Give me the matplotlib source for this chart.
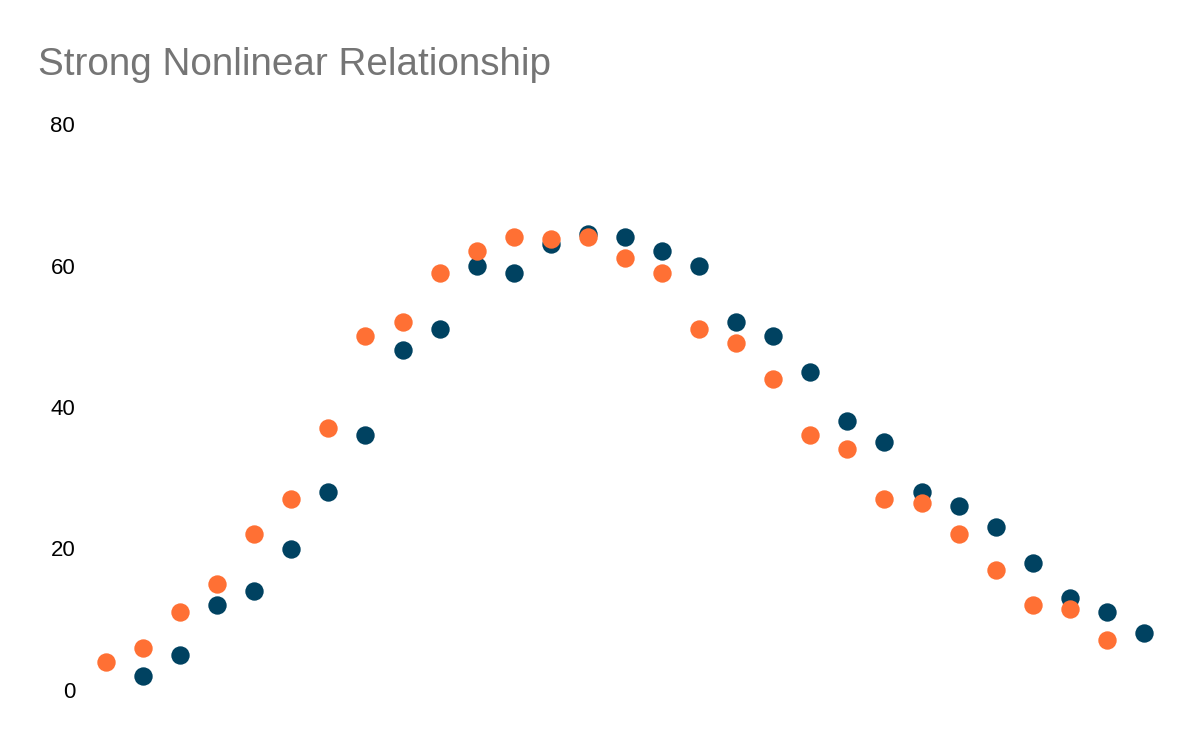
import matplotlib
matplotlib.use("Agg")
import matplotlib.pyplot as plt

plt.rcParams['font.family'] = ['Liberation Sans', 'DejaVu Sans']

title = "Strong Nonlinear Relationship"
y_ticks = [0, 20, 40, 60, 80]

blue_x = list(range(1, 29))
blue_y = [2, 5, 12, 14, 20, 28, 36, 48, 51, 60, 59, 63, 64.5, 64, 62, 60,
          52, 50, 45, 38, 35, 28, 26, 23, 18, 13, 11, 8]

orange_x = list(range(0, 28))
orange_y = [4, 6, 11, 15, 22, 27, 37, 50, 52, 59, 62, 64, 63.7, 64, 61, 59,
            51, 49, 44, 36, 34, 27, 26.4, 22, 17, 12, 11.4, 7]

W, H = 1200, 742
fig = plt.figure(figsize=(W / 100, H / 100), dpi=100)
left_px, right_px = 80, 1170
top_px, bot_px = 124, 690
ax = fig.add_axes([left_px / W, (H - bot_px) / H, (right_px - left_px) / W, (bot_px - top_px) / H])

step = 37.07
x0_px = 106
ax.set_xlim((left_px - x0_px) / step, (right_px - x0_px) / step)
ax.set_ylim(0, 80)

ax.scatter(blue_x, blue_y, s=175, color='#004261', linewidths=0, clip_on=False, zorder=2)
ax.scatter(orange_x, orange_y, s=175, color='#ff7034', linewidths=0, clip_on=False, zorder=3)

for sp in ax.spines.values():
    sp.set_visible(False)
ax.set_xticks([])
ax.set_yticks(y_ticks)
ax.tick_params(axis='y', length=0, pad=3.5, labelsize=16, labelcolor='#000000')

fig.text(38 / W, (H - 75) / H, title, fontsize=27.8, color='#757575', ha='left', va='baseline')

fig.savefig("out.png", dpi=100, facecolor='white')
